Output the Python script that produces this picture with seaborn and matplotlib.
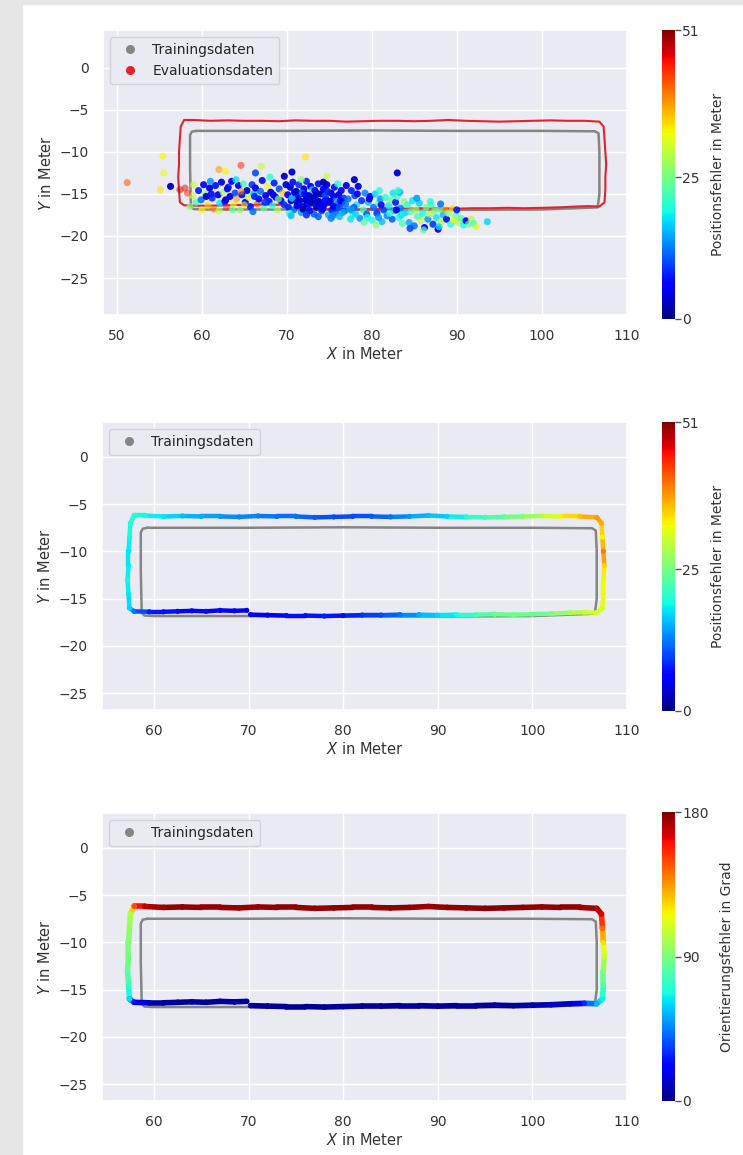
import numpy as np
import matplotlib
matplotlib.use("Agg")
import matplotlib.pyplot as plt
from matplotlib.collections import LineCollection
from matplotlib.lines import Line2D
from matplotlib.patches import Rectangle
import seaborn as sns

# training trajectory (gray loop)
train_x = [59.3, 70, 80, 90, 100, 106.3, 106.7, 106.8, 106.8, 106.6, 100, 90, 80, 70, 60,
           59.0, 58.7, 58.6, 58.6, 58.8, 59.3]
train_y = [-7.5, -7.5, -7.45, -7.5, -7.5, -7.55, -7.8, -10, -15, -16.6, -16.85, -16.9, -16.9,
           -16.85, -16.85, -16.8, -16.5, -12, -8.0, -7.6, -7.5]

# evaluation trajectory (ground truth) with errors
eval_x = [70.2, 72, 74, 76, 78, 80, 82, 84, 86, 88, 90, 92, 94, 96, 98, 100, 102, 104, 105.5, 106.8,
          107.4, 107.5, 107.5, 107.6, 107.5, 107.4, 107.3,
          106.8, 105, 103, 101, 99, 97, 95, 93, 91, 89, 87, 85, 83, 81, 79, 77, 75, 73, 71, 69,
          67, 65, 63, 61, 59, 57.9,
          57.5, 57.4, 57.3, 57.3, 57.2, 57.3, 57.4,
          57.9, 59.5, 61, 62.5, 64, 65.5, 67, 68.5, 69.8]
eval_y = [-16.7, -16.75, -16.8, -16.8, -16.85, -16.8, -16.75, -16.75, -16.7, -16.7, -16.75, -16.7,
          -16.7, -16.65, -16.7, -16.65, -16.6, -16.5, -16.45, -16.5,
          -16.0, -14.5, -13.0, -11.5, -10.0, -8.5, -7.0,
          -6.4, -6.3, -6.3, -6.25, -6.3, -6.35, -6.4, -6.35, -6.3, -6.2, -6.3, -6.35, -6.3, -6.3,
          -6.35, -6.4, -6.3, -6.3, -6.25, -6.35, -6.3, -6.3, -6.25, -6.3, -6.2, -6.2,
          -7.0, -8.5, -10.0, -11.5, -13.0, -14.5, -16.0,
          -16.35, -16.4, -16.4, -16.35, -16.3, -16.35, -16.25, -16.3, -16.25]
eval_pos_err = [6, 6, 7, 7, 8, 7, 9, 10, 12, 15, 17, 19, 22, 24, 25, 24, 25, 28, 30, 31,
                31, 33, 32, 35, 40, 33, 37,
                38, 36, 33, 29, 26, 24, 22, 20, 17, 16, 14, 12, 11, 10, 10, 11, 12, 12, 13, 13,
                14, 15, 16, 18, 19, 20,
                20, 19, 18, 18, 19, 18, 17,
                12, 8, 7, 7, 6, 7, 6, 5, 5]
eval_ori_err = [3, 3, 4, 3, 4, 5, 4, 3, 5, 6, 4, 5, 5, 6, 5, 8, 10, 12, 30, 55,
                65, 80, 92, 105, 120, 142, 165,
                172, 176, 178, 176, 178, 177, 179, 176, 178, 175, 177, 178, 176, 177, 178, 176,
                177, 178, 176, 175, 177, 176, 178, 175, 172, 150,
                100, 95, 92, 88, 84, 76, 62,
                25, 8, 5, 4, 5, 4, 5, 6, 5]

# predicted positions (top panel) and their position error
pred_x = [58.9, 59.3, 59.6, 59.9, 60.2, 60.4, 60.7, 60.9, 61.2, 61.4,
          61.6, 61.9, 62.1, 62.3, 62.5, 62.7, 62.9, 63.1, 63.3, 63.5,
          63.7, 63.9, 64.1, 64.3, 64.5, 64.7, 64.9, 65.1, 65.3, 65.5,
          65.7, 65.9, 66.1, 66.3, 66.5, 66.7, 66.9, 67.1, 67.3, 67.5,
          67.7, 67.9, 68.1, 68.3, 68.5, 68.7, 68.9, 69.1, 69.3, 69.5,
          69.7, 69.9, 58.3, 58.6, 60.0, 62.0, 63.6, 66.0, 61.0, 64.0,
          70.1, 70.2, 70.4, 70.5, 70.7, 70.8, 71.0, 71.1, 71.3, 71.4,
          71.6, 71.7, 71.9, 72.0, 72.2, 72.3, 72.5, 72.6, 72.8, 72.9,
          73.1, 73.2, 73.4, 73.5, 73.7, 73.8, 74.0, 74.1, 74.3, 74.4,
          74.6, 74.7, 74.9, 75.0, 75.2, 75.3, 75.5, 75.6, 75.8, 75.9,
          76.1, 76.2, 76.4, 76.5, 76.7, 76.8, 77.0, 70.6, 71.8, 73.0,
          74.5, 75.7, 72.7, 70.3, 76.0, 73.6, 71.2, 74.2, 72.4, 75.4,
          77.2, 77.4, 77.6, 77.8, 78.0, 78.2, 78.4, 78.6, 78.8, 79.0,
          79.2, 79.4, 79.6, 79.8, 80.0, 80.2, 80.4, 80.6, 80.8, 81.0,
          81.2, 81.4, 81.6, 81.8, 82.0, 82.2, 82.4, 82.6, 82.8, 83.0,
          83.2, 83.4, 83.6, 83.8, 84.0, 77.5, 79.1, 80.9, 82.5, 78.3,
          79.7, 81.1, 82.9, 77.9, 80.5, 83.3,
          84.2, 84.4, 84.6, 84.8, 85.0, 85.2, 85.4, 85.6, 85.8, 86.0,
          86.2, 86.4, 86.6, 86.8, 87.0, 87.2, 87.4, 87.6, 87.8, 88.0,
          88.2, 88.4, 88.6, 88.8, 89.0, 89.3, 89.6, 89.9, 90.2, 90.5,
          90.8, 91.1, 91.4, 91.7, 92.0, 92.3, 85.3, 86.9, 88.1, 89.5,
          90.0, 87.9, 84.5, 86.1,
          51.2, 55.4, 55.5, 55.1, 56.3, 57.4, 58.0, 62.0, 62.8, 64.6,
          67.0, 66.3, 69.7, 70.6, 71.7, 72.2, 83.0, 83.1, 77.95, 74.3,
          74.7, 93.6, 89.7, 59.0, 68.0,
          70.9, 71.5, 72.1, 72.8, 73.3, 73.9, 74.5, 75.1, 75.7, 76.3,
          71.2, 71.9, 72.6, 73.4, 74.1, 74.8, 75.5, 76.2, 76.9, 77.6,
          70.5, 72.3, 73.7, 75.2, 76.6, 78.1, 79.5, 80.8, 82.1, 83.5,
          68.4, 66.2, 64.6, 62.8, 61.1, 67.4, 65.0, 63.0, 60.5, 69.0]
pred_y = [-15.2, -16.0, -14.6, -15.7, -13.9, -15.0, -16.4, -14.3, -15.5, -16.8,
          -14.0, -15.1, -16.1, -13.6, -14.8, -15.9, -16.6, -14.2, -15.3, -13.5,
          -16.2, -14.9, -15.6, -14.0, -16.9, -15.1, -13.8, -16.0, -14.6, -15.4,
          -16.5, -13.9, -15.0, -14.3, -16.2, -15.6, -14.7, -13.4, -16.7, -15.2,
          -14.1, -15.9, -14.8, -16.4, -13.7, -15.4, -16.9, -14.4, -15.8, -14.9,
          -16.3, -13.9, -14.9, -16.5, -16.9, -17.0, -16.9, -17.1, -13.5, -13.3,
          -15.1, -16.6, -14.2, -15.8, -13.6, -16.9, -15.4, -14.7, -16.2, -13.9,
          -15.0, -17.2, -16.5, -14.4, -15.7, -13.5, -16.8, -15.2, -14.1, -16.1,
          -15.5, -17.4, -14.8, -16.6, -13.8, -15.9, -15.0, -17.0, -14.4, -16.3,
          -15.6, -13.9, -17.5, -16.0, -14.9, -16.9, -15.3, -14.2, -17.2, -16.4,
          -15.1, -17.7, -14.6, -16.0, -15.5, -17.0, -14.0, -15.5, -14.9, -14.5,
          -15.2, -15.9, -17.0, -17.3, -13.8, -16.0, -16.0, -16.8, -16.2, -17.6,
          -15.6, -16.8, -14.6, -17.5, -15.2, -16.3, -14.1, -17.9, -15.8, -16.9,
          -14.9, -17.4, -16.0, -15.3, -18.1, -16.6, -15.0, -17.3, -16.1, -15.6,
          -18.3, -16.9, -15.4, -17.6, -16.4, -15.7, -18.0, -17.0, -16.0, -15.3,
          -17.8, -16.7, -18.5, -15.9, -17.2, -18.0, -18.4, -14.6, -14.9, -15.0,
          -15.6, -16.3, -16.9, -16.6, -18.7, -14.8,
          -16.3, -18.4, -17.1, -15.8, -18.8, -16.9, -17.7, -16.1, -18.2, -17.3,
          -19.0, -16.6, -18.0, -17.4, -16.3, -18.6, -17.0, -17.8, -19.2, -16.8,
          -18.3, -17.5, -16.9, -18.0, -17.3, -18.6, -18.1, -17.6, -18.4, -17.9,
          -18.7, -18.2, -18.6, -18.0, -18.5, -18.9, -15.5, -15.9, -16.2, -16.7,
          -16.9, -18.9, -19.1, -19.3,
          -13.65, -10.5, -12.5, -14.5, -14.1, -14.5, -14.3, -12.1, -12.3, -11.6,
          -11.7, -12.5, -12.9, -12.4, -13.3, -10.6, -12.5, -14.6, -13.3, -13.6,
          -12.9, -18.3, -18.1, -13.9, -13.0,
          -14.8, -15.8, -15.0, -15.9, -14.6, -16.2, -15.8, -15.9, -16.7, -15.8,
          -16.4, -16.8, -15.6, -15.2, -16.4, -14.7, -16.5, -16.6, -16.2, -16.9,
          -17.6, -17.5, -17.7, -17.9, -17.2, -17.4, -17.8, -17.8, -17.3, -17.5,
          -15.1, -15.3, -14.7, -15.7, -15.0, -16.0, -16.3, -14.4, -15.3, -15.6]
pred_err = [30, 22, 8, 12, 6, 26, 35, 4, 9, 40,
            7, 5, 18, 5, 28, 6, 44, 8, 4, 6,
            32, 10, 38, 5, 27, 7, 22, 5, 4, 30,
            8, 9, 16, 5, 42, 6, 12, 7, 24, 5,
            33, 7, 4, 20, 8, 6, 29, 10, 5, 36,
            9, 4, 44, 26, 33, 30, 24, 12, 14, 18,
            6, 8, 4, 3, 7, 12, 5, 2, 6, 9,
            3, 14, 5, 4, 2, 8, 10, 3, 6, 4,
            2, 11, 5, 3, 7, 4, 2, 9, 5, 3,
            6, 4, 15, 4, 3, 8, 5, 7, 12, 5,
            4, 16, 6, 3, 9, 11, 5, 17, 13, 18,
            10, 14, 7, 20, 20, 3, 4, 6, 5, 13,
            12, 15, 8, 20, 10, 18, 4, 14, 9, 21,
            13, 11, 16, 6, 19, 12, 17, 9, 22, 14,
            16, 10, 20, 13, 18, 24, 11, 15, 8, 21,
            19, 13, 22, 26, 17, 18, 24, 20, 18, 6,
            5, 7, 6, 11, 26, 15,
            20, 15, 24, 18, 12, 27, 22, 17, 30, 19,
            6, 25, 14, 28, 21, 9, 26, 18, 5, 23,
            29, 16, 38, 7, 26, 20, 31, 24, 28, 22,
            19, 5, 24, 29, 22, 32, 14, 20, 12, 34,
            8, 17, 10, 24,
            42, 33, 32, 34, 3, 48, 46, 38, 33, 45,
            30, 10, 4, 4, 26, 34, 4, 20, 3, 3,
            30, 17, 30, 30, 20,
            4, 3, 6, 2, 5, 3, 7, 4, 9, 6,
            5, 2, 4, 3, 6, 8, 5, 10, 12, 14,
            16, 9, 11, 13, 15, 17, 19, 14, 21, 18,
            6, 8, 40, 5, 7, 9, 34, 6, 4, 25]

x_ticks_top = [50, 60, 70, 80, 90, 100, 110]
x_ticks = [60, 70, 80, 90, 100, 110]
y_ticks = [0, -5, -10, -15, -20, -25]
pos_max = 51
ori_max = 180

sns.set_theme(style="darkgrid")
plt.rcParams["font.family"] = ["DejaVu Sans"]
jet = plt.get_cmap("jet")

W, H = 743, 1155
fig = plt.figure(figsize=(W / 100, H / 100), dpi=100)
fig.patch.set_facecolor("white")
# light gray page margin seen left and top
fig.patches.append(Rectangle((0, 0), 22 / W, 1, transform=fig.transFigure,
                             color="#e6e6e6", zorder=-10))
fig.patches.append(Rectangle((0, 1 - 4 / H), 1, 4 / H, transform=fig.transFigure,
                             color="#e6e6e6", zorder=-10))


def box(left, top, right, bottom):
    return [left / W, (H - bottom) / H, (right - left) / W, (bottom - top) / H]


ax1 = fig.add_axes(box(103, 30, 627, 315))
ax2 = fig.add_axes(box(102, 422, 627, 710))
ax3 = fig.add_axes(box(102, 813, 627, 1101))
cax1 = fig.add_axes(box(662, 30, 675, 319))
cax2 = fig.add_axes(box(662, 422, 675, 711))
cax3 = fig.add_axes(box(662, 812, 675, 1101))

gray = "#858585"
red = "#e3222b"


def draw_training(ax):
    sns.lineplot(x=train_x, y=train_y, sort=False, estimator=None, color=gray,
                 lw=1.8, ax=ax, zorder=2)


def style_axes(ax, xlim, ylim, xticks):
    ax.set_xlim(*xlim)
    ax.set_ylim(*ylim)
    ax.set_xticks(xticks)
    ax.set_yticks(y_ticks)
    ax.tick_params(labelsize=10, colors="#333333", pad=4)
    ax.set_xlabel("$X$ in Meter", fontsize=10.5, color="#333333", labelpad=2)
    ax.set_ylabel("$Y$ in Meter", fontsize=10.5, color="#333333")


def colorbar(cax, vmax, ticks, label):
    sm = plt.cm.ScalarMappable(norm=plt.Normalize(0, vmax), cmap=jet)
    cb = fig.colorbar(sm, cax=cax)
    cb.outline.set_visible(False)
    cb.set_ticks(ticks)
    cax.tick_params(labelsize=10, length=4, width=1, color="#555555", colors="#333333", pad=1)
    cb.set_label(label, fontsize=10, color="#333333", labelpad=8)


def legend(ax, with_eval):
    handles = [Line2D([], [], ls="", marker="o", ms=5.5, color=gray, label="Trainingsdaten")]
    if with_eval:
        handles.append(Line2D([], [], ls="", marker="o", ms=5.5, color=red, label="Evaluationsdaten"))
    ax.legend(handles=handles, loc="upper left", fontsize=10, frameon=True,
              facecolor="#eaeaf2", edgecolor="#d0d0d8", framealpha=0.9,
              handletextpad=0.6, borderpad=0.45, labelspacing=0.5)


def colored_path(ax, values, vmax, lw):
    pts = np.column_stack([eval_x, eval_y])
    segs = np.stack([pts[:-1], pts[1:]], axis=1)
    vals = np.asarray(values, dtype=float)
    lc = LineCollection(segs, cmap=jet, norm=plt.Normalize(0, vmax), linewidths=lw,
                        capstyle="round", zorder=3)
    lc.set_array((vals[:-1] + vals[1:]) / 2)
    ax.add_collection(lc)
    sns.scatterplot(x=eval_x, y=eval_y, hue=values, palette=jet, hue_norm=(0, vmax),
                    s=14, linewidth=0, legend=False, ax=ax, zorder=4)


# top panel: predictions as cloud
draw_training(ax1)
sns.lineplot(x=eval_x, y=eval_y, sort=False, estimator=None, color=red, lw=1.5,
             ax=ax1, zorder=2)
err = np.asarray(pred_err, dtype=float)
sns.scatterplot(x=pred_x, y=pred_y, hue=pred_err, palette=jet, hue_norm=(0, pos_max),
                s=26, linewidth=0, alpha=1 - 0.55 * err / pos_max, legend=False,
                ax=ax1, zorder=3)
style_axes(ax1, (48.35, 110.05), (-29.4, 4.5), x_ticks_top)
legend(ax1, True)
colorbar(cax1, pos_max, [0, 25, 51], "Positionsfehler in Meter")

# middle panel: position error along ground truth
draw_training(ax2)
colored_path(ax2, eval_pos_err, pos_max, 3.2)
style_axes(ax2, (54.5, 109.95), (-26.8, 3.7), x_ticks)
legend(ax2, False)
colorbar(cax2, pos_max, [0, 25, 51], "Positionsfehler in Meter")

# bottom panel: orientation error along ground truth
draw_training(ax3)
colored_path(ax3, eval_ori_err, ori_max, 4.0)
style_axes(ax3, (54.5, 109.95), (-26.8, 3.7), x_ticks)
legend(ax3, False)
colorbar(cax3, ori_max, [0, 90, 180], "Orientierungsfehler in Grad")

fig.savefig("out.png", dpi=100)
